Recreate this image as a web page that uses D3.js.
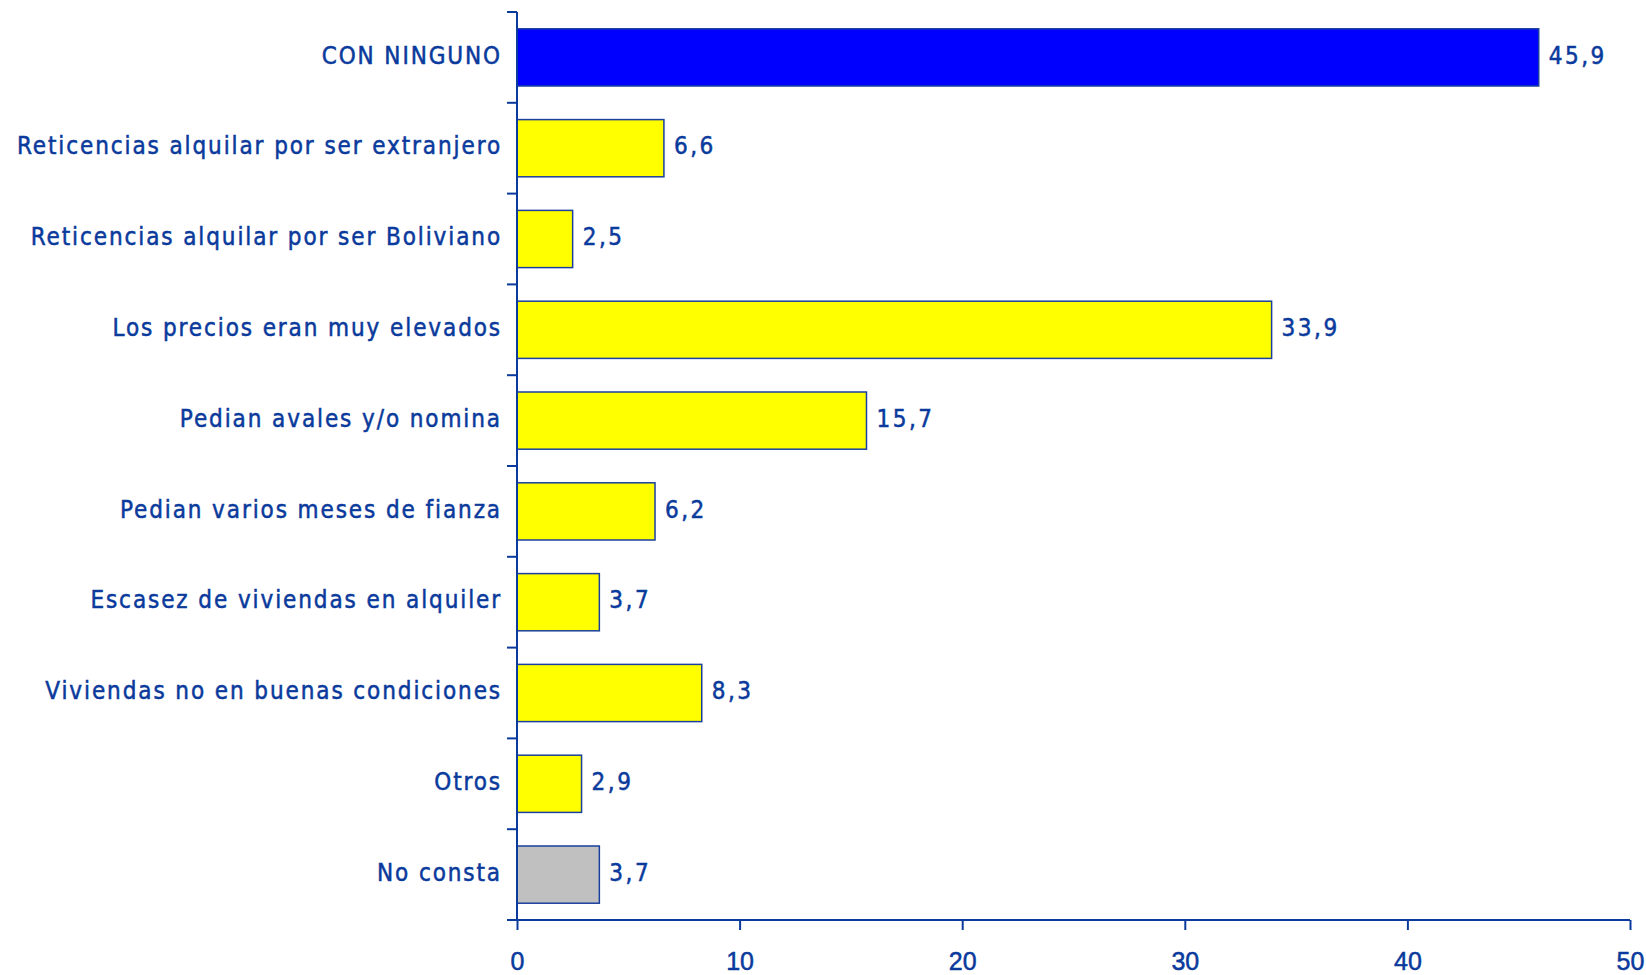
<!DOCTYPE html>
<html><head><meta charset="utf-8">
<script src="https://cdn.jsdelivr.net/npm/d3@7"></script>
<style>
body{margin:0;background:#fff;}
</style></head>
<body>
<svg id="chart" width="1646" height="975"></svg>
<script>
const categories = ["CON NINGUNO","Reticencias alquilar por ser extranjero","Reticencias alquilar por ser Boliviano","Los precios eran muy elevados","Pedian avales y/o nomina","Pedian varios meses de fianza","Escasez de viviendas en alquiler","Viviendas no en buenas condiciones","Otros","No consta"];
const values = [45.9,6.6,2.5,33.9,15.7,6.2,3.7,8.3,2.9,3.7];
const barColors = ["#0000FF","#FFFF00","#FFFF00","#FFFF00","#FFFF00","#FFFF00","#FFFF00","#FFFF00","#FFFF00","#C0C0C0"];
const xTicks = [0,10,20,30,40,50];

const ink = "#0a3a9c";
const svg = d3.select("#chart");
const mLeft = 517, mRight = 1630, mTop = 12, mBottom = 920;
const labelFont = "'DejaVu Sans Condensed', 'DejaVu Sans', sans-serif";

const x = d3.scaleLinear().domain([0,50]).range([mLeft,mRight]);
const y = d3.scaleBand().domain(categories).range([mTop,mBottom]).paddingInner(0.37).paddingOuter(0.185);
const yb = d3.scaleBand().domain(categories).range([mTop,mBottom]);

// bars
svg.append("g").selectAll("rect").data(categories).join("rect")
  .attr("x", x(0))
  .attr("y", d=>y(d))
  .attr("width", (d,i)=>x(values[i])-x(0))
  .attr("height", y.bandwidth())
  .attr("fill", (d,i)=>barColors[i])
  .attr("stroke", "#1a3f9e")
  .attr("stroke-width", 1.5);

// value labels
svg.append("g").selectAll("text").data(categories).join("text")
  .attr("x", (d,i)=>x(values[i])+10)
  .attr("y", d=>y(d)+y.bandwidth()/2)
  .attr("dy","0.26em")
  .attr("fill", ink)
  .attr("stroke", ink).attr("stroke-width", 0.5)
  .attr("font-family", labelFont)
  .attr("font-size", 24)
  .attr("letter-spacing", 2.5)
  .text((d,i)=>String(values[i]).replace(".", ","));

// y axis line + ticks at band boundaries
const yAxisG = svg.append("g").attr("stroke", ink).attr("stroke-width", 2);
yAxisG.append("line").attr("x1",mLeft).attr("x2",mLeft).attr("y1",mTop).attr("y2",mBottom);
const bounds = categories.map(d=>yb(d)).concat([mBottom]);
yAxisG.selectAll("line.t").data(bounds).join("line").attr("class","t")
  .attr("x1",mLeft-10).attr("x2",mLeft).attr("y1",d=>d).attr("y2",d=>d);

// category labels
svg.append("g").selectAll("text").data(categories).join("text")
  .attr("x", mLeft-15)
  .attr("y", d=>yb(d)+yb.bandwidth()/2)
  .attr("dy","0.26em")
  .attr("text-anchor","end")
  .attr("fill", ink)
  .attr("stroke", ink).attr("stroke-width", 0.5)
  .attr("font-family", labelFont)
  .attr("font-size", 24)
  .attr("letter-spacing", 1.9)
  .text(d=>d);

// x axis
const xAxis = d3.axisBottom(x).tickValues(xTicks).tickSize(10).tickPadding(22).tickFormat(d3.format("d"));
const xg = svg.append("g").attr("transform",`translate(0,${mBottom})`).call(xAxis);
xg.select(".domain").attr("stroke", ink).attr("stroke-width",2).attr("d", `M${mLeft},0H${mRight}`);
xg.selectAll(".tick line").attr("stroke", ink).attr("stroke-width",2);
xg.selectAll(".tick text").attr("fill", ink)
  .attr("stroke", ink).attr("stroke-width", 0.5)
  .attr("font-family","'Liberation Sans Narrow', 'Arial Narrow', sans-serif")
  .attr("font-size", 25);
</script>
</body></html>
